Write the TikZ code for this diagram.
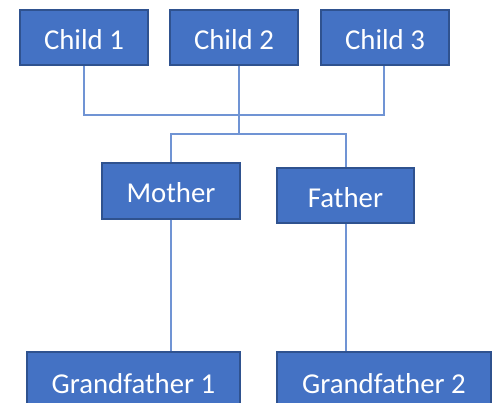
\documentclass[tikz,border=0pt]{standalone}
\usepackage{fontspec}
\setmainfont{Carlito}
\definecolor{boxfill}{HTML}{4472C4}
\definecolor{boxedge}{HTML}{2F528F}
\definecolor{linkcol}{HTML}{7094D4}
\begin{document}
\begin{tikzpicture}[x=1pt,y=-1pt,
  person/.style={draw=boxedge,line width=1.6pt,fill=boxfill,text=white,inner sep=0pt,
    text height=23.5pt,text depth=0pt,
    font=\fontsize{28.8}{32}\selectfont},
  link/.style={draw=linkcol,line width=1.2pt}]
\useasboundingbox (0,0) rectangle (493,403);
\clip (0,0) rectangle (493,403);
\node[person,minimum width=128pt,minimum height=55pt] (c1) at (84,37.5) {Child 1};
\node[person,minimum width=128pt,minimum height=55pt] (c2) at (234,37.5) {Child 2};
\node[person,minimum width=128pt,minimum height=55pt] (c3) at (385,37.5) {Child 3};
\node[person,minimum width=138pt,minimum height=56pt] (mo) at (171,191) {Mother};
\node[person,minimum width=137pt,minimum height=55pt] (fa) at (345.5,195.5) {Father};
\node[person,minimum width=213pt,minimum height=60pt] (g1) at (133.5,382) {Grandfather 1};
\node[person,minimum width=214pt,minimum height=60pt] (g2) at (384,382) {Grandfather 2};
\coordinate (j1) at (84,115);
\coordinate (j3) at (384,115);
\coordinate (jm) at (239,133);
\coordinate (pm) at (171,134);
\coordinate (pf) at (346,134);
\draw[link] (c1.south) -- (j1) -- (j3) -- (c3.south -| j3);
\draw[link] (c2.south -| jm) -- (jm);
\draw[link] (mo.north) -- (pm) -- (pf) -- (fa.north -| pf);
\draw[link] (mo.south) -- (g1.north -| mo.south);
\draw[link] (fa.south -| pf) -- (g2.north -| pf);
\end{tikzpicture}
\end{document}
